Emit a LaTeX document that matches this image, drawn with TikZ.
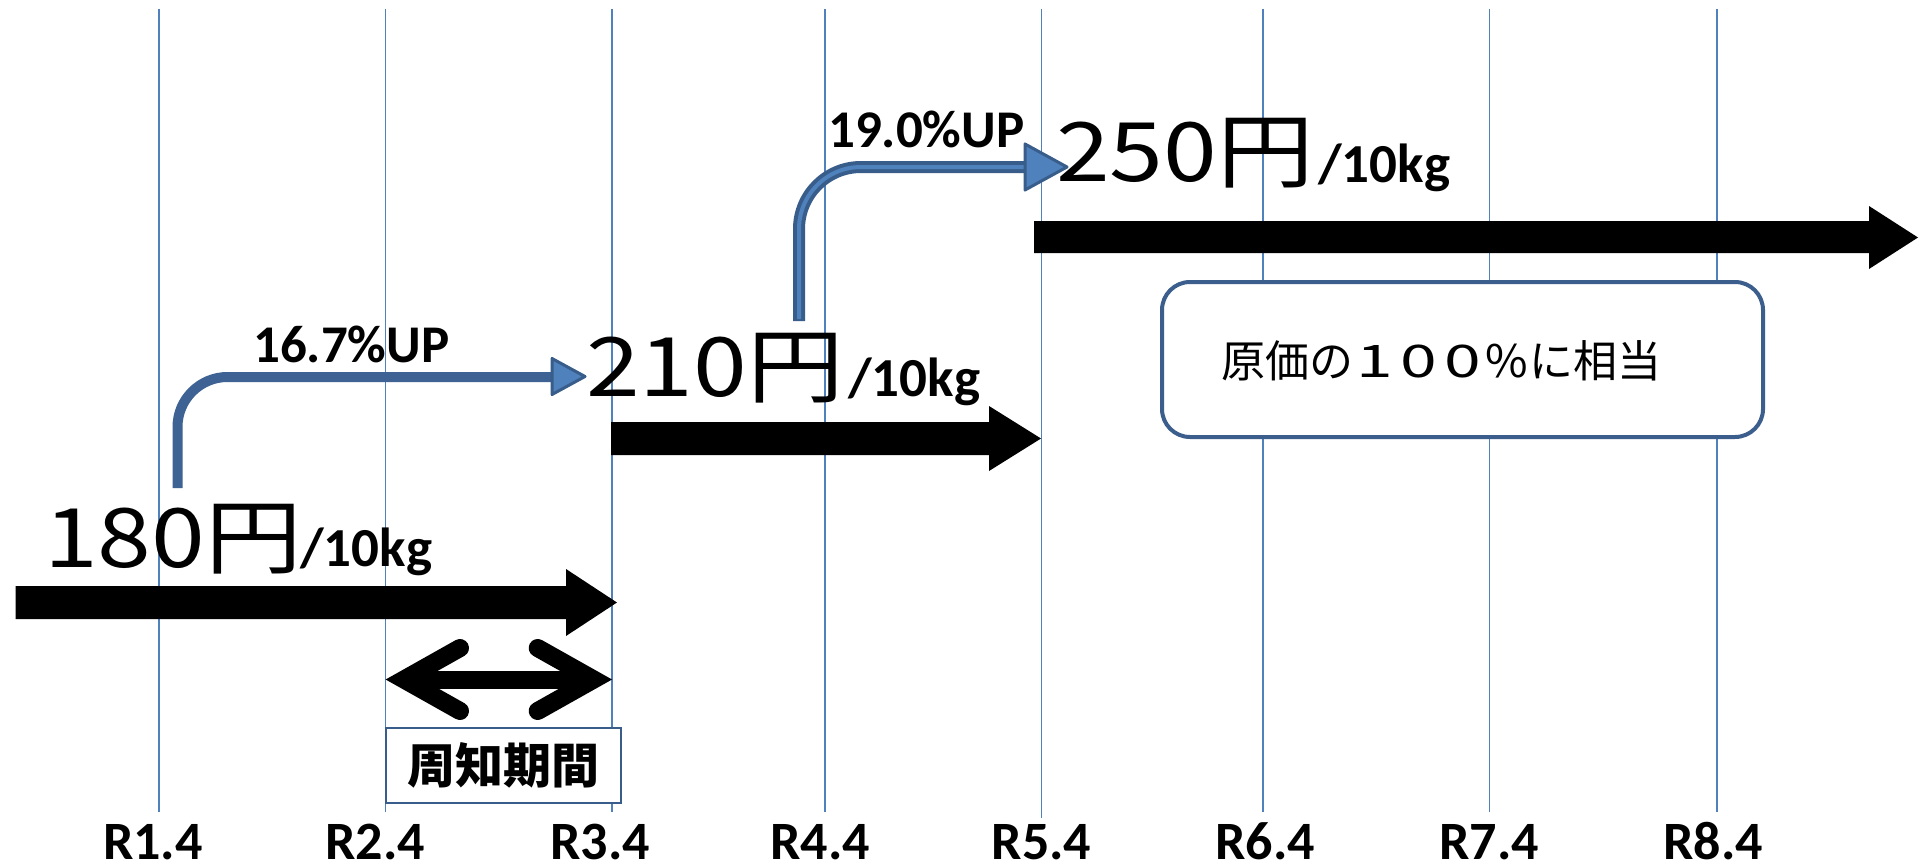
\documentclass[tikz,border=0pt]{standalone}
\usepackage{fontspec}
\setmainfont{Carlito}
\newfontfamily\jpfont{Noto Sans CJK JP}
\newfontfamily\calibfont{Carlito}
\definecolor{gridblue}{HTML}{4F81BD}
\definecolor{darkblue}{HTML}{385D8A}
\definecolor{boxblue}{HTML}{3B5E8C}
\definecolor{connblue}{HTML}{3D6293}
\newcommand{\fwchar}[2][1.5]{\makebox[1em]{\scalebox{#1}[1.02]{#2}}}
\begin{document}
\begin{tikzpicture}[x=1pt,y=-1pt,
  gridline/.style={draw=gridblue,line width=1.5pt},
  price/.style={inner sep=0,anchor=base west,font=\jpfont\fontsize{82}{82}\selectfont},
  unit/.style={inner sep=0,anchor=base west,font=\calibfont\bfseries\fontsize{55}{55}\selectfont},
  uplabel/.style={inner sep=0,anchor=base west,font=\calibfont\bfseries\fontsize{53}{53}\selectfont},
  rlabel/.style={inner sep=0,anchor=base,font=\calibfont\bfseries\fontsize{54}{54}\selectfont},
  connector/.style={draw=connblue,line width=10pt},
  headshape/.style={fill=gridblue,draw=darkblue,line width=3pt,line join=round},
  bigarrow/.style={fill=black},
  dbl/.style={line width=18pt,line cap=round,miter limit=10}]
\useasboundingbox (0,0) rectangle (1919,864);
\fill[white] (0,0) rectangle (1919,864);
% grid lines
\foreach \x in {159,385.5,612,825,1263,1489.5,1717}{
  \draw[gridline] (\x,9.5) -- (\x,812);
}
\draw[gridline] (1041.5,9.5) -- (1041.5,818);
% boxes
\node[draw=darkblue,line width=2pt,fill=white,minimum width=235pt,minimum height=75pt,inner sep=0,
  font=\jpfont\bfseries\fontsize{48}{48}\selectfont] (period) at (503,765) {周知期間};
\node[draw=boxblue,line width=4pt,rounded corners=28pt,fill=white,minimum width=601pt,minimum height=155pt,inner sep=0] (cost) at (1462.5,359.5) {};
\node[inner sep=0,anchor=west,font=\jpfont\fontsize{44}{44}\selectfont] (costtext) at (1221,361) {原価の\fwchar{1}\fwchar{0}\fwchar{0}\fwchar[1.05]{\%}に相当};
% black arrows
\fill[bigarrow] (15.6,586) -- (566,586) -- (566,569) -- (617,602.5) -- (566,636) -- (566,619) -- (15.6,619) -- cycle;
\fill[bigarrow] (611,422) -- (989,422) -- (989,406) -- (1041,438.5) -- (989,471) -- (989,455) -- (611,455) -- cycle;
\fill[bigarrow] (1034,221) -- (1869,221) -- (1869,206) -- (1918,237.5) -- (1869,269) -- (1869,253) -- (1034,253) -- cycle;
% double arrow
\draw[line width=18pt] (404,679.5) -- (593.7,679.5);
\draw[dbl] (460,648) -- (404,679.5) -- (460,711);
\draw[dbl] (537.7,648) -- (593.7,679.5) -- (537.7,711);
% blue connectors
\coordinate (a0) at (177.5,488);
\coordinate (a1) at (554,377);
\draw[connector,rounded corners=50pt] (a0) |- (a1);
\draw[headshape] (552,358.5) -- (585,376.5) -- (552,394.5) -- cycle;
\coordinate (b0) at (799,321);
\coordinate (b1) at (1027,167);
\draw[draw=darkblue,line width=12pt,rounded corners=62pt] (b0) |- (b1);
\draw[draw=gridblue,line width=4pt,rounded corners=62pt] (799,319) |- (1027,167);
\draw[headshape] (1025,144) -- (1067,167) -- (1025,190) -- cycle;
% labels
\node[uplabel] (up1) at (253,362) {16.7\%UP};
\node[uplabel] (up2) at (828,148) {19.0\%UP};
\node[price] (p180) at (44,567) {\scalebox{1.18}[1]{180円}};
\node[unit] (u180) at (300,566) {/10kg};
\node[price] (p210) at (586,396) {\scalebox{1.18}[1]{210円}};
\node[unit] (u210) at (848,396) {/10kg};
\node[price] (p250) at (1056,181) {\scalebox{1.18}[1]{250円}};
\node[unit] (u250) at (1318,182) {/10kg};
% axis labels
\foreach \x/\t in {153/R1.4,375/R2.4,600/R3.4,820/R4.4,1041.5/R5.4,1265/R6.4,1489/R7.4,1713/R8.4}{
  \node[rlabel] at (\x,859) {\t};
}
\end{tikzpicture}
\end{document}
